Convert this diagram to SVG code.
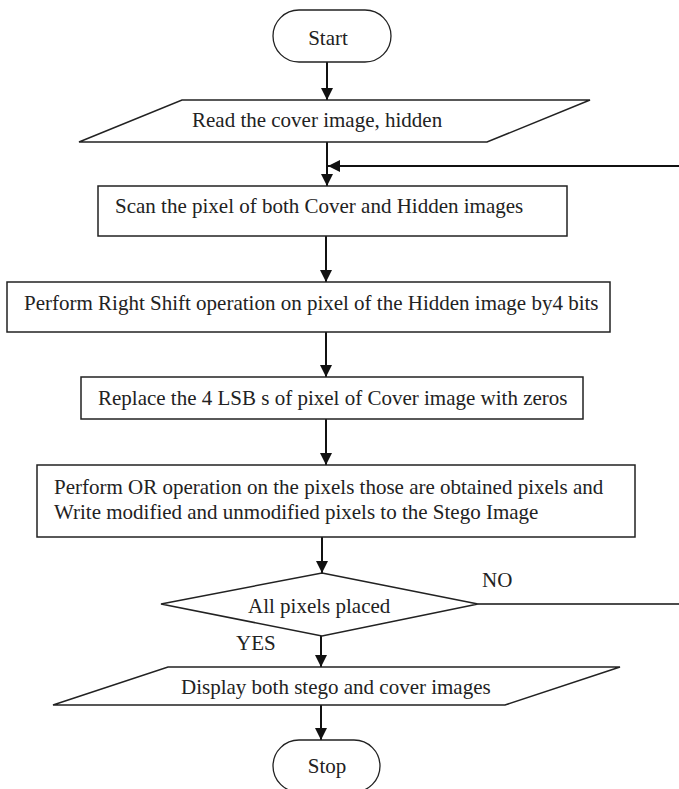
<svg xmlns="http://www.w3.org/2000/svg" width="679" height="789" viewBox="0 0 679 789">
<style>
.shape{fill:#fff;stroke:#222;stroke-width:1.5}
.term{fill:#fff;stroke:#222;stroke-width:1.3}
.conn{fill:none;stroke:#111;stroke-width:2}
text{font-family:"Liberation Serif","Times New Roman",serif;font-size:21px;fill:#222}
</style>
<defs>
<marker id="ah" markerUnits="userSpaceOnUse" markerWidth="12" markerHeight="12" refX="12" refY="6" orient="auto">
<path d="M0,0 L12,6 L0,12 Z" fill="#111"/>
</marker>
</defs>
<rect width="679" height="789" fill="#fff"/>
<g id="connectors">
<line class="conn" x1="327" y1="62" x2="327" y2="100" marker-end="url(#ah)"/>
<line class="conn" x1="327" y1="142" x2="327" y2="186" marker-end="url(#ah)"/>
<line class="conn" x1="679" y1="166" x2="328" y2="166" marker-end="url(#ah)"/>
<line class="conn" x1="326" y1="236" x2="326" y2="282" marker-end="url(#ah)"/>
<line class="conn" x1="326" y1="332" x2="326" y2="377" marker-end="url(#ah)"/>
<line class="conn" x1="326" y1="419" x2="326" y2="465" marker-end="url(#ah)"/>
<line class="conn" x1="322" y1="537" x2="322" y2="573" marker-end="url(#ah)"/>
<line class="conn" x1="478" y1="604" x2="679" y2="604" style="stroke-width:1.5"/>
<line class="conn" x1="321" y1="636" x2="321" y2="667" marker-end="url(#ah)"/>
<line class="conn" x1="321" y1="705" x2="321" y2="740" marker-end="url(#ah)"/>
<text x="482" y="587">NO</text>
<text x="236" y="650">YES</text>
</g>
<g id="start">
<rect class="term" x="273" y="10" width="118" height="52" rx="26" ry="26"/>
<text x="328" y="45" text-anchor="middle">Start</text>
</g>
<g id="read">
<polygon class="shape" points="182,100 590,100 487,142 79,142"/>
<text x="192" y="127">Read the cover image, hidden</text>
</g>
<g id="scan">
<rect class="shape" x="98" y="186" width="469" height="50"/>
<text x="115" y="213">Scan the pixel of both Cover and Hidden images</text>
</g>
<g id="shift">
<rect class="shape" x="7" y="282" width="603" height="50"/>
<text x="24" y="310">Perform Right Shift operation on pixel of the Hidden image by4 bits</text>
</g>
<g id="replace">
<rect class="shape" x="81" y="377" width="502" height="42"/>
<text x="98" y="405">Replace the 4 LSB s of pixel of Cover image with zeros</text>
</g>
<g id="or">
<rect class="shape" x="37" y="465" width="598" height="72"/>
<text x="54" y="494">Perform OR operation on the pixels those are obtained pixels and</text>
<text x="54" y="519">Write modified and unmodified pixels to the Stego Image</text>
</g>
<g id="decision">
<polygon class="shape" points="322,573 478,604 322,636 161,604"/>
<text x="248" y="613">All pixels placed</text>
</g>
<g id="display">
<polygon class="shape" points="168,667 620,667 505,705 53,705"/>
<text x="181" y="694">Display both stego and cover images</text>
</g>
<g id="stop">
<rect class="term" x="273" y="740" width="107" height="52" rx="26" ry="26"/>
<text x="327" y="773" text-anchor="middle">Stop</text>
</g>
</svg>
